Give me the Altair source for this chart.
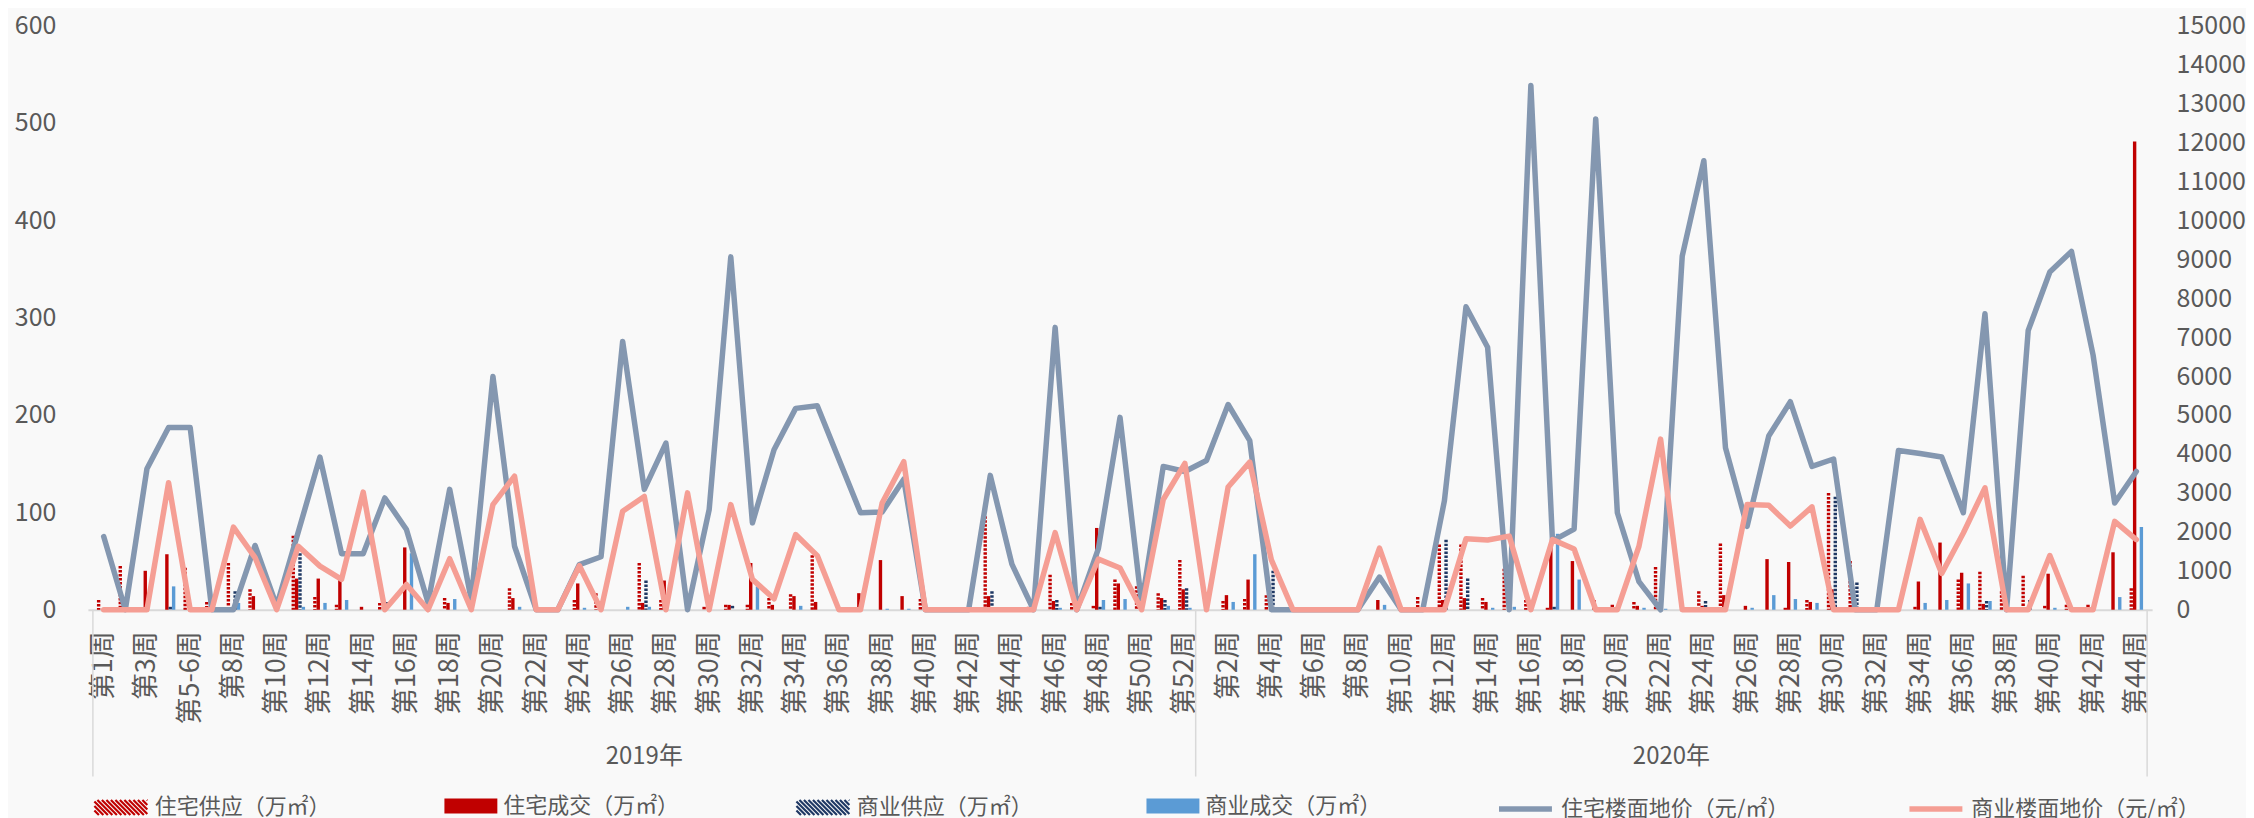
import json
import altair as alt
import pandas as pd

# ---------------- data ----------------
weeks_2019 = ["第1周", "第2周", "第3周", "第4周", "第5-6周"] + [f"第{w}周" for w in range(7, 53)]
weeks_2020 = [f"第{w}周" for w in range(1, 45)]
year_names = ["2019年", "2020年"]

series_names = ["住宅供应（万㎡）", "住宅成交（万㎡）", "商业供应（万㎡）", "商业成交（万㎡）",
                "住宅楼面地价（元/㎡）", "商业楼面地价（元/㎡）"]

res_supply = [10, 45, 0, 0, 43, 8, 48, 21, 0, 76,
              13, 5, 0, 7, 0, 0, 12, 0, 0, 22,
              0, 0, 10, 17, 0, 48, 10, 0, 3, 5,
              5, 12, 16, 56, 0, 0, 0, 0, 11, 0,
              0, 96, 0, 3, 36, 7, 4, 31, 24, 17,
              51, 0, 9, 11, 15, 0, 0, 0, 0, 0,
              0, 13, 67, 67, 12, 42, 10, 2, 0, 0,
              5, 8, 44, 0, 19, 68, 0, 0, 2, 10,
              120, 50, 0, 0, 3, 0, 31, 39, 19, 35,
              4, 5, 5, 0, 22]
res_deal = [0, 0, 40, 57, 0, 0, 0, 14, 0, 32,
            32, 31, 3, 0, 64, 0, 7, 0, 0, 12,
            0, 0, 27, 0, 0, 7, 30, 0, 0, 5,
            48, 5, 14, 8, 0, 17, 51, 14, 0, 0,
            0, 14, 0, 0, 9, 0, 84, 27, 0, 12,
            21, 0, 15, 31, 0, 0, 0, 0, 0, 10,
            0, 0, 10, 12, 8, 0, 0, 65, 50, 10,
            0, 4, 3, 0, 4, 15, 4, 52, 49, 8,
            21, 0, 0, 0, 29, 69, 38, 6, 0, 0,
            37, 0, 0, 59, 481]
com_supply = [0, 0, 0, 3, 0, 0, 19, 0, 0, 58,
              0, 0, 0, 8, 0, 0, 0, 0, 0, 0,
              0, 0, 0, 0, 0, 30, 0, 0, 0, 4,
              0, 0, 0, 0, 0, 0, 0, 0, 0, 0,
              0, 19, 0, 0, 10, 0, 3, 0, 0, 10,
              22, 0, 0, 0, 40, 0, 0, 0, 0, 0,
              0, 0, 72, 32, 0, 0, 0, 3, 0, 0,
              0, 0, 0, 0, 9, 0, 0, 0, 0, 0,
              116, 28, 0, 0, 0, 0, 0, 9, 0, 10,
              0, 0, 0, 0, 0]
com_deal = [0, 0, 0, 24, 0, 0, 7, 0, 0, 3,
            7, 10, 0, 0, 58, 0, 11, 0, 0, 3,
            0, 0, 2, 0, 3, 3, 0, 0, 0, 0,
            24, 0, 4, 0, 0, 0, 1, 1, 0, 0,
            0, 0, 0, 0, 2, 0, 10, 11, 0, 4,
            2, 0, 8, 57, 0, 0, 0, 0, 0, 5,
            0, 0, 0, 0, 2, 3, 0, 78, 31, 0,
            0, 2, 1, 0, 0, 0, 2, 15, 11, 7,
            0, 0, 0, 0, 7, 10, 27, 9, 0, 0,
            2, 0, 0, 13, 85]
res_price = [1880, 0, 3620, 4680, 4680, 0, 0, 1650, 100, 2000,
             3920, 1440, 1440, 2870, 2060, 180, 3090, 260, 5990, 1630,
             0, 0, 1160, 1360, 6890, 3090, 4280, 0, 2570, 9060,
             2230, 4110, 5170, 5240, 3860, 2490, 2510, 3350, 0, 0,
             0, 3450, 1170, 0, 7250, 0, 1570, 4940, 150, 3680,
             3550, 3830, 5270, 4340, 0, 0, 0, 0, 0, 840,
             0, 0, 2790, 7780, 6740, 0, 13460, 1770, 2070, 12600,
             2490, 720, 0, 9080, 11530, 4160, 2140, 4460, 5340, 3680,
             3870, 0, 0, 4090, 4010, 3920, 2490, 7600, 0, 7170,
             8670, 9200, 6540, 2740, 3550]
com_price = [0, 0, 0, 3260, 0, 0, 2120, 1340, 0, 1630,
             1120, 780, 3020, 0, 650, 0, 1310, 0, 2700, 3430,
             0, 0, 1130, 0, 2530, 2910, 0, 3000, 0, 2700,
             780, 280, 1930, 1390, 0, 0, 2740, 3800, 0, 0,
             0, 0, 0, 0, 1980, 0, 1300, 1070, 0, 2830,
             3760, 0, 3150, 3790, 1280, 0, 0, 0, 0, 1580,
             0, 0, 0, 1820, 1790, 1890, 0, 1800, 1560, 0,
             0, 1630, 4380, 0, 0, 0, 2700, 2680, 2150, 2640,
             0, 0, 0, 0, 2320, 930, 1970, 3130, 0, 0,
             1390, 0, 0, 2270, 1800]

# ---------------- styles ----------------
FONT = "Noto Sans CJK SC"
TXT = "#595959"
BG = "#F9F9F9"
GRID = "#D9D9D9"
colors = ["#C00000", "#C00000", "#1F3864", "#5B9BD5", "#8497B0", "#F59E94"]
bar_offsets = [-0.234, -0.078, 0.078, 0.234]   # in category units
W, H = 2067, 585
BAR_W = 3.4

weeks = weeks_2019 + weeks_2020
n19, n = len(weeks_2019), len(weeks_2019) + len(weeks_2020)

rows = []
for s, vals in enumerate([res_supply, res_deal, com_supply, com_deal]):
    for i, v in enumerate(vals):
        rows.append({"idx": i, "pos": i + bar_offsets[s], "series": series_names[s], "value": v, "zero": 0})
bars_df = pd.DataFrame(rows)
line_rows = []
for s, vals in enumerate([res_price, com_price]):
    for i, v in enumerate(vals):
        line_rows.append({"idx": i, "series": series_names[4 + s], "value": v})
lines_df = pd.DataFrame(line_rows)
groups_df = pd.DataFrame({"year": year_names, "center": [(n19 - 1) / 2, (n19 + n - 1) / 2]})
bounds_df = pd.DataFrame({"b": [-0.5, n19 - 0.5, n - 0.5]})

xscale = alt.Scale(domain=[-0.5, n - 0.5], nice=False, zero=False)
label_expr = json.dumps(weeks, ensure_ascii=False) + "[datum.value]"
xaxis = alt.Axis(values=list(range(0, n, 2)), labelExpr=label_expr, labelAngle=270,
                 labelFontSize=27, labelFont=FONT, labelColor=TXT, labelPadding=21,
                 ticks=False, grid=False, domainColor=GRID, domainWidth=2,
                 labelOverlap=False, labelFlush=False, labelBound=False, title=None)
yleft = alt.Scale(domain=[0, 600], nice=False)
yright = alt.Scale(domain=[0, 15000], nice=False)
yaxis_left = alt.Axis(values=list(range(0, 601, 100)), orient="left", grid=False, domain=False,
                      ticks=False, labelFontSize=25, labelFont=FONT, labelColor=TXT,
                      labelPadding=32, minExtent=80, maxExtent=80, title=None)
yaxis_right = alt.Axis(values=list(range(0, 15001, 1000)), orient="right", grid=False, domain=False,
                       ticks=False, labelFontSize=25, labelFont=FONT, labelColor=TXT, format="d",
                       labelPadding=24, title=None)


def hatch_path(h=0.283, period=0.17):
    s = 2 * h
    segs = []
    x0 = -1 - s
    while x0 < 1:
        t0 = max(0.0, (-1 - x0) / s)
        t1 = min(1.0, (1 - x0) / s)
        if t1 > t0:
            segs.append(f"M{x0 + s * t0:.3f},{-h + 2 * h * t0:.3f}L{x0 + s * t1:.3f},{-h + 2 * h * t1:.3f}")
        x0 += period
    return "".join(segs)


RECT = "M-1,-0.283L1,-0.283L1,0.283L-1,0.283Z"
HATCH = hatch_path()
SYM = 53 * 53
legend_x = [5, 357, 708, 1060, 1410, 1821]
LEG_Y = 755


def legend(k, sym_type, stroke_w):
    return alt.Legend(orient="none", legendX=legend_x[k], legendY=LEG_Y, title=None,
                      symbolType=sym_type, symbolSize=SYM, symbolStrokeWidth=stroke_w,
                      labelFontSize=22, labelFont=FONT, labelColor=TXT, labelLimit=0,
                      labelOffset=6, padding=0, offset=0)


def color_enc(k, leg):
    return alt.Color("series:N", scale=alt.Scale(domain=[series_names[k]], range=[colors[k]]), legend=leg)


layers = []
for k in range(4):
    src = alt.Chart(bars_df).transform_filter(alt.datum.series == series_names[k]).transform_filter(alt.datum.value > 0)
    if k in (0, 2):
        m = src.mark_rule(strokeWidth=BAR_W, strokeDash=[2.5, 1.5]).encode(
            x=alt.X("pos:Q", scale=xscale, axis=xaxis),
            y=alt.Y("value:Q", scale=yleft, axis=yaxis_left),
            y2="zero:Q",
            color=color_enc(k, legend(k, HATCH, 2.2)),
        )
    else:
        m = src.mark_bar(size=BAR_W, orient="vertical").encode(
            x=alt.X("pos:Q", scale=xscale, axis=xaxis),
            y=alt.Y("value:Q", scale=yleft, axis=yaxis_left),
            y2="zero:Q",
            color=color_enc(k, legend(k, RECT, 0)),
        )
    layers.append(m)

seps = alt.Chart(bounds_df).mark_rule(color=GRID, strokeWidth=1.5).encode(
    x=alt.X("b:Q", scale=xscale, axis=xaxis), y=alt.value(H), y2=alt.value(H + 167))
years_txt = alt.Chart(groups_df).mark_text(fontSize=24, font=FONT, color=TXT, baseline="middle").encode(
    x=alt.X("center:Q", scale=xscale, axis=xaxis), y=alt.value(H + 147), text="year:N")

bar_layer = alt.layer(*layers, seps, years_txt).resolve_scale(color="independent")

line_layers = []
for k in (4, 5):
    line_layers.append(
        alt.Chart(lines_df).transform_filter(alt.datum.series == series_names[k]).mark_line(
            strokeWidth=5.5, strokeCap="round", strokeJoin="round").encode(
            x=alt.X("idx:Q", scale=xscale, axis=xaxis),
            y=alt.Y("value:Q", scale=yright, axis=yaxis_right),
            color=color_enc(k, legend(k, "stroke", 5.5)),
        )
    )
line_layer = alt.layer(*line_layers).resolve_scale(color="independent")

chart = alt.layer(bar_layer, line_layer).resolve_scale(y="independent", color="independent").properties(
    width=W, height=H, background=BG, padding={"left": 0, "top": 5, "right": 0, "bottom": 0}
).configure_view(stroke=None).configure_axis(labelFont=FONT)

chart.save("out.html", embed_options={"renderer": "svg", "actions": False})
